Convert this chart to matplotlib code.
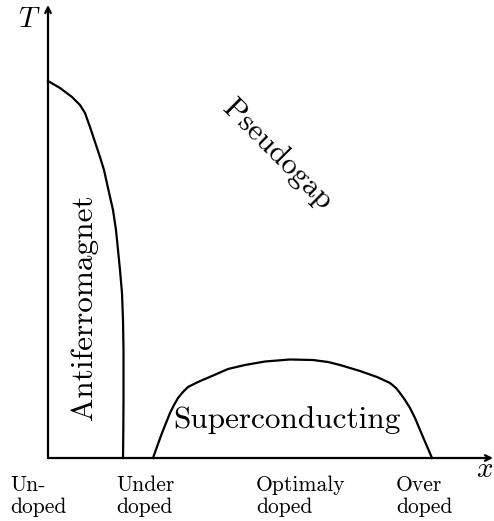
import matplotlib.pyplot as plt

plt.rcParams['font.family'] = ['cmr10', 'DejaVu Serif']
plt.rcParams['mathtext.fontset'] = 'cm'
plt.rcParams['axes.unicode_minus'] = False

# antiferromagnet boundary (doping, temperature) in arbitrary units
af_x = [0, 12, 24, 32, 37, 42, 47, 52, 56, 60, 65, 68, 70, 72, 74, 75, 75.5, 75.5, 75.3, 75]
af_T = [377, 370, 361, 353, 345, 331, 316, 301, 288, 270, 248, 228, 208, 188, 165, 138, 108, 58, 25, 0]

# superconducting dome
sc_x = [105, 110, 114, 118, 122, 126, 130, 135, 140, 150, 164, 180, 197, 217, 242, 265, 280,
        292, 312, 329, 342, 348, 352, 357, 362, 367, 372, 378, 384]
sc_T = [0, 14, 25, 35, 45, 53, 60, 66, 71, 76, 82, 89, 93, 96.5, 98.5, 98, 96,
        93, 87, 81, 75, 70, 65, 58, 50, 40, 28, 14, 0]

tick_pos = [-38, 68, 208, 348]
tick_labels = ['Un-\ndoped', 'Under\ndoped', 'Optimaly\ndoped', 'Over\ndoped']

fig = plt.figure(figsize=(4.94, 5.21), dpi=100)
ax = fig.add_axes([0, 0, 1, 1])
ax.set_xlim(-48, 446)
ax.set_ylim(-63, 458)
ax.axis('off')

# axes with arrows
ax.annotate('', xy=(445, 0), xytext=(0, 0),
            arrowprops=dict(arrowstyle='->', lw=1.6, color='black', shrinkA=0, shrinkB=0))
ax.annotate('', xy=(0, 453), xytext=(0, 0),
            arrowprops=dict(arrowstyle='->', lw=1.6, color='black', shrinkA=0, shrinkB=0))
ax.text(-19, 438, '$T$', fontsize=21, ha='center', va='center')
ax.text(437, -12, '$x$', fontsize=21, ha='center', va='center')

ax.plot(af_x, af_T, color='black', lw=1.6, solid_joinstyle='round')
ax.plot(sc_x, sc_T, color='black', lw=1.6, solid_joinstyle='round')

ax.text(36, 151, 'Antiferromagnet', fontsize=22.5, rotation=90, ha='center', va='center')
ax.text(239, 38, 'Superconducting', fontsize=22.5, ha='center', va='center')
ax.text(229, 303, 'Pseudogap', fontsize=22, rotation=-45, ha='center', va='center',
        rotation_mode='anchor')

for p, lab in zip(tick_pos, tick_labels):
    ax.text(p, -17, lab, fontsize=15.5, ha='left', va='top', linespacing=1.2)

plt.savefig('out.png', dpi=100)
